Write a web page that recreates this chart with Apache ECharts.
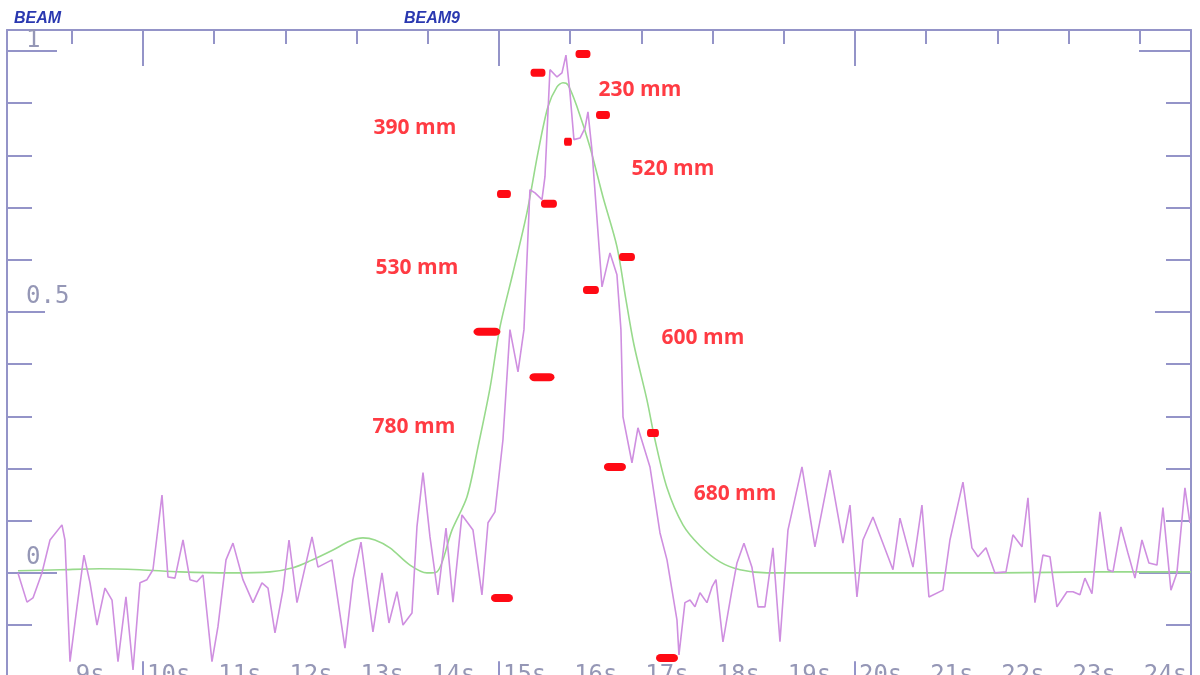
<!DOCTYPE html>
<html><head><meta charset="utf-8">
<script src="https://cdn.jsdelivr.net/npm/echarts@6/dist/echarts.min.js"></script>
<style>html,body{margin:0;padding:0;background:#fff}#c{width:1200px;height:675px}</style>
</head><body><div id="c"></div>
<script>
// ---- data ----
const xTickValues = [9,10,11,12,13,14,15,16,17,18,19,20,21,22,23,24];
const xLongTicks = [10,15,20];
const yMinorTicks = [-0.1,0.1,0.2,0.3,0.4,0.6,0.7,0.8,0.9];
const yLongTicks = [0,1];
const yMidTicks = [0.5];
const yLabelValues = [0,0.5,1];

const beamTime = [8.244,8.371,8.455,8.581,8.694,8.862,8.904,8.975,9.073,9.171,9.256,9.354,9.466,9.565,9.649,9.761,9.860,9.958,10.056,10.140,10.267,10.351,10.449,10.562,10.660,10.758,10.843,10.969,11.053,11.166,11.264,11.404,11.545,11.671,11.756,11.854,11.966,12.051,12.163,12.374,12.458,12.654,12.837,12.949,13.062,13.230,13.357,13.455,13.567,13.652,13.778,13.848,13.933,14.031,14.143,14.256,14.354,14.480,14.635,14.761,14.846,14.944,15.056,15.154,15.267,15.351,15.435,15.506,15.604,15.646,15.716,15.815,15.885,15.941,15.997,16.053,16.138,16.208,16.250,16.306,16.447,16.559,16.657,16.713,16.742,16.868,16.952,17.121,17.261,17.360,17.500,17.528,17.612,17.683,17.753,17.823,17.921,17.992,18.048,18.146,18.272,18.343,18.441,18.553,18.638,18.736,18.848,18.947,19.059,19.256,19.438,19.649,19.831,19.930,20.028,20.112,20.253,20.534,20.632,20.815,20.941,21.039,21.236,21.334,21.517,21.643,21.728,21.840,21.966,22.121,22.219,22.346,22.430,22.528,22.640,22.739,22.837,22.978,23.062,23.160,23.230,23.329,23.441,23.553,23.624,23.736,23.834,23.933,24.031,24.129,24.242,24.326,24.438,24.522,24.635,24.705];
const beamSignal = [0,-0.056,-0.048,0,0.063,0.092,0.063,-0.170,-0.065,0.034,-0.019,-0.100,-0.029,-0.052,-0.170,-0.046,-0.186,-0.019,-0.013,0.006,0.149,-0.008,-0.010,0.063,-0.013,-0.017,-0.004,-0.170,-0.103,0.025,0.057,-0.013,-0.057,-0.019,-0.029,-0.115,-0.033,0.063,-0.057,0.069,0.011,0.025,-0.144,-0.013,0.059,-0.113,0,-0.096,-0.036,-0.100,-0.077,0.088,0.192,0.069,-0.042,0.086,-0.056,0.111,0.082,-0.042,0.096,0.117,0.255,0.466,0.385,0.466,0.734,0.728,0.715,0.759,0.964,0.950,0.958,0.992,0.920,0.830,0.833,0.852,0.883,0.810,0.548,0.613,0.571,0.466,0.299,0.211,0.278,0.203,0.077,0.025,-0.090,-0.157,-0.057,-0.052,-0.065,-0.038,-0.057,-0.027,-0.013,-0.132,-0.033,0.019,0.057,0.011,-0.065,-0.065,0.048,-0.132,0.082,0.203,0.050,0.197,0.057,0.130,-0.046,0.063,0.107,0.006,0.105,0.011,0.130,-0.046,-0.033,0.063,0.174,0.048,0.031,0.048,0,0.002,0.073,0.050,0.144,-0.057,0.034,0.031,-0.065,-0.036,-0.036,-0.042,-0.010,-0.040,0.117,0.006,0.002,0.088,0.038,-0.010,0.063,0.019,0.015,0.125,-0.033,0,0.163,0.096];

const fitTime = [8.244,8.834,9.396,9.958,10.520,11.222,11.784,12.107,12.346,12.669,12.907,13.090,13.258,13.469,13.750,13.989,14.129,14.340,14.551,14.705,14.874,15.014,15.197,15.393,15.548,15.688,15.815,15.899,15.969,16.096,16.278,16.461,16.657,16.784,16.896,17.079,17.191,17.360,17.584,17.823,18.104,18.385,18.764,20.632,22.037,23.441,24.719];
const fitCurve = [0.004,0.006,0.008,0.006,0.002,0,0.002,0.010,0.023,0.044,0.061,0.067,0.063,0.048,0.015,0,0.002,0.082,0.146,0.241,0.354,0.471,0.575,0.690,0.805,0.893,0.931,0.939,0.935,0.893,0.816,0.720,0.625,0.523,0.437,0.331,0.255,0.163,0.092,0.052,0.021,0.006,0,0,0,0.002,0.002];

const markerTime = [16.180,15.548,16.461,15.969,15.070,15.702,16.798,16.292,14.831,15.604,17.163,16.629,15.042,17.360];
const markerValue = [0.994,0.958,0.877,0.826,0.726,0.707,0.605,0.542,0.462,0.375,0.268,0.203,-0.048,-0.163];

const labelText = ['230 mm','390 mm','520 mm','530 mm','600 mm','780 mm','680 mm'];
const labelTime = [16.980,13.820,17.444,13.848,17.865,13.806,18.315];
const labelValue = [0.925,0.852,0.774,0.584,0.450,0.280,0.151];

// ---- styling (not data) ----
const markerWidths = [15,15,14,8,14,16,16,16,27,25,12,22,22,22];
const AX = '#9494c8';
const LBL = '#9597b6';
const RED = '#ff0a14';
const xMin = 8.09, xMax = 24.72, yMin = -0.2, yMax = 1.04;
const capsule = 'path://M4,0 L16,0 A4,4 0 0 1 16,8 L4,8 A4,4 0 0 1 4,0 Z';

function xAx(extra) {
  return Object.assign({type:'value', min:xMin, max:xMax, splitLine:{show:false},
    axisLine:{show:false, onZero:false}, axisLabel:{show:false}}, extra);
}
function yAx(extra) {
  return Object.assign({type:'value', min:yMin, max:yMax, splitLine:{show:false},
    axisLine:{show:false, onZero:false}, axisLabel:{show:false}}, extra);
}
const tickStyle = {color:AX, width:2};

const chart = echarts.init(document.getElementById('c'), null, {renderer:'canvas'});
chart.setOption({
  animation:false,
  backgroundColor:'#ffffff',
  title:[
    {text:'BEAM', left:9, top:6, textStyle:{fontFamily:'Liberation Sans', fontStyle:'italic', fontWeight:'bold', fontSize:16, color:'#2a38b0'}},
    {text:'BEAM9', left:399, top:6, textStyle:{fontFamily:'Liberation Sans', fontStyle:'italic', fontWeight:'bold', fontSize:16, color:'#2a38b0'}}
  ],
  grid:{left:7, top:30, width:1184, height:647.3, containLabel:false, outerBoundsMode:'none'},
  xAxis:[
    xAx({position:'bottom',
      axisTick:{show:true, inside:true, length:16, customValues:xLongTicks, lineStyle:tickStyle},
      axisLabel:{show:true, customValues:xTickValues, inside:true, verticalAlign:'top', align:'left', margin:14,
        padding:[0,0,0,4], formatter:v=>v+'s', fontFamily:'DejaVu Sans Mono', fontSize:24, color:LBL}}),
    xAx({position:'top', axisLine:{show:true, onZero:false, lineStyle:{color:AX, width:2}},
      axisTick:{show:true, inside:true, length:14, customValues:xTickValues, lineStyle:tickStyle}}),
    xAx({position:'top', axisTick:{show:true, inside:true, length:36, customValues:xLongTicks, lineStyle:tickStyle}})
  ],
  yAxis:[
    yAx({position:'left', axisLine:{show:true, onZero:false, lineStyle:{color:AX, width:2}},
      axisTick:{show:true, inside:true, length:25, customValues:yMinorTicks, lineStyle:tickStyle},
      axisLabel:{show:true, inside:true, customValues:yLabelValues, margin:19, verticalAlign:'bottom',
        padding:[0,0,3,0], fontFamily:'DejaVu Sans Mono', fontSize:24, color:LBL,
        formatter:v=> v===1 ? '{one|1}' : String(v),
        rich:{one:{fontFamily:'DejaVu Sans Mono', fontSize:24, color:LBL, lineHeight:14}}}}),
    yAx({position:'left', axisTick:{show:true, inside:true, length:50, customValues:yLongTicks, lineStyle:tickStyle}}),
    yAx({position:'left', axisTick:{show:true, inside:true, length:38, customValues:yMidTicks, lineStyle:tickStyle}}),
    yAx({position:'right', axisLine:{show:true, onZero:false, lineStyle:{color:AX, width:2}},
      axisTick:{show:true, inside:true, length:25, customValues:yMinorTicks, lineStyle:tickStyle}}),
    yAx({position:'right', axisTick:{show:true, inside:true, length:52, customValues:yLongTicks, lineStyle:tickStyle}}),
    yAx({position:'right', axisTick:{show:true, inside:true, length:36, customValues:yMidTicks, lineStyle:tickStyle}})
  ],
  series:[
    {type:'line', name:'fit', data:fitTime.map((t,i)=>[t,fitCurve[i]]), smooth:0.3, showSymbol:false,
      lineStyle:{color:'#98da8c', width:1.6}, z:2},
    {type:'line', name:'beam', data:beamTime.map((t,i)=>[t,beamSignal[i]]), smooth:false, showSymbol:false,
      lineStyle:{color:'#cf8fe0', width:1.6}, z:3},
    {type:'scatter', name:'markers', symbol:capsule, z:4,
      data:markerTime.map((t,i)=>({value:[t,markerValue[i]], symbolSize:[markerWidths[i],8]})),
      itemStyle:{color:RED, opacity:1}},
    {type:'scatter', name:'labels', symbolSize:0, z:5, silent:true,
      data:labelTime.map((t,i)=>({value:[t,labelValue[i]], name:labelText[i]})),
      label:{show:true, position:'inside', formatter:p=>p.name, fontFamily:'Open Sans', fontWeight:'bold', fontSize:21, color:RED}}
  ]
});
</script></body></html>
